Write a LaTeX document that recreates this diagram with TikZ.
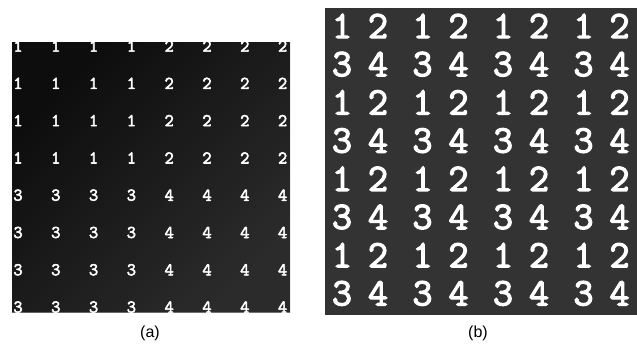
\documentclass[tikz,border=0pt]{standalone}
\usepackage{fontspec}
\setmainfont{Liberation Sans}
\newfontfamily\digitfont[FakeBold=3]{Latin Modern Mono}
\begin{document}
\begin{tikzpicture}[x=1pt,y=-1pt,
  panelA/.style={fill=black!90},
  panelB/.style={fill=black!80},
  smalldigit/.style={text=white,font=\digitfont\fontsize{18}{18}\selectfont,inner sep=0pt},
  bigdigit/.style={text=white,font=\digitfont\fontsize{39}{39}\selectfont,inner sep=0pt},
  caption/.style={font=\fontsize{16}{16}\selectfont,inner sep=0pt}]
\useasboundingbox (0,0) rectangle (637,348);
% panel (a)
\path[panelA] (12,42) rectangle (290,312);
\shade[top color=black!97,bottom color=black!80,shading angle=45,opacity=0.7] (12,42) rectangle (290,312);
\foreach \r in {0,...,7}{
  \foreach \c in {0,...,7}{
    \pgfmathtruncatemacro{\v}{(\r>3)*2+(\c>3)+1}
    \node[smalldigit] (a-\r-\c) at ({18+37.8*\c},{46+37.3*\r}) {\v};
  }
}
% panel (b)
\path[panelB] (325,8) rectangle (637,315);
\foreach \r in {0,...,7}{
  \foreach \c in {0,...,7}{
    \pgfmathtruncatemacro{\v}{mod(\r,2)*2+mod(\c,2)+1}
    \pgfmathsetmacro{\xx}{342+80.5*floor(\c/2)+36*mod(\c,2)}
    \node[bigdigit] (b-\r-\c) at (\xx,{26+38.2*\r}) {\v};
  }
}
\node[caption] (capa) at (150,333) {(a)};
\node[caption] (capb) at (478,333) {(b)};
\end{tikzpicture}
\end{document}
